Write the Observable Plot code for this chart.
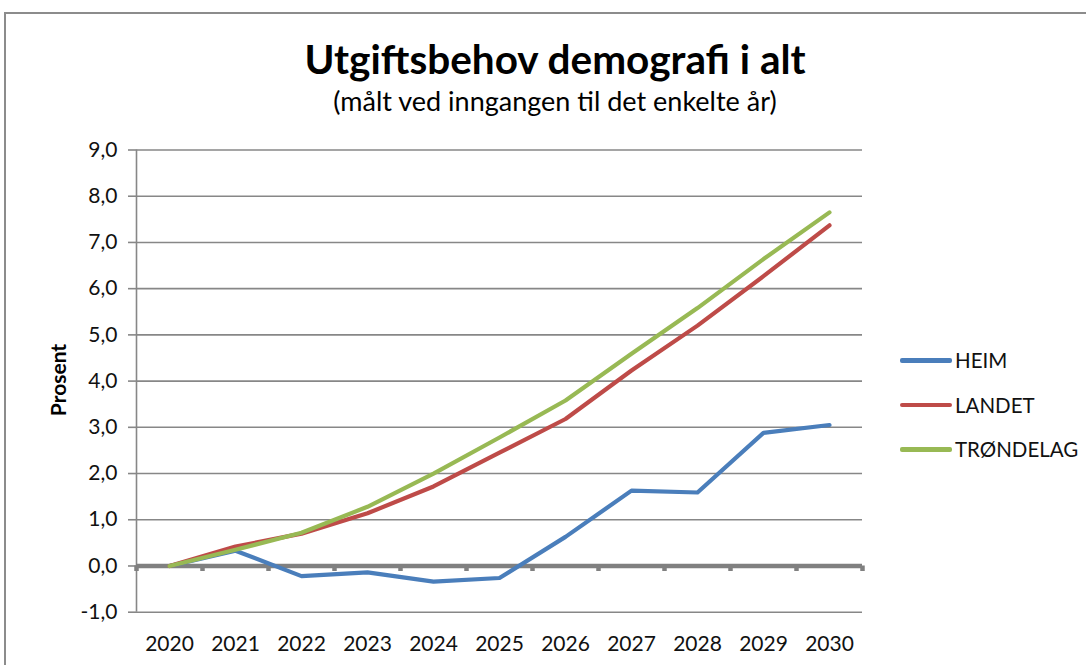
<!DOCTYPE html>
<html><head><meta charset="utf-8">
<script src="https://cdn.jsdelivr.net/npm/d3@7"></script>
<script src="https://cdn.jsdelivr.net/npm/@observablehq/plot@0.6"></script>
<style>
html,body{margin:0;padding:0;background:#fff;overflow:hidden;width:1086px;height:665px;font-family:Lato,sans-serif}
#frame{position:absolute;left:4px;top:12px;width:1200px;height:800px;border:2px solid #8c8c8c;box-sizing:border-box}
#chart{position:absolute;left:0;top:0}
.title{position:absolute;left:0;width:1110px;text-align:center;color:#000;white-space:nowrap}
#t1{top:34px;font-size:40.5px;font-weight:700}
#t2{top:84px;font-size:27px}
#ylab{position:absolute;left:57px;top:380px;transform:translate(-50%,-50%) rotate(-90deg);font-weight:700;font-size:21px;white-space:nowrap}
#legend{position:absolute;left:900px;top:338px}
.item{display:flex;align-items:center;height:44.5px;font-size:20.5px;color:#111}
.sw{width:52px;height:4.5px;border-radius:2px;margin-right:3px}
</style></head>
<body>
<div id="frame"></div>
<div id="chart"></div>
<div class="title" id="t1">Utgiftsbehov demografi i alt</div>
<div class="title" id="t2">(målt ved inngangen til det enkelte år)</div>
<div id="ylab">Prosent</div>
<div id="legend"></div>
<script>
const years = [2020, 2021, 2022, 2023, 2024, 2025, 2026, 2027, 2028, 2029, 2030];
const heim = [0, 0.33, -0.22, -0.14, -0.34, -0.26, 0.63, 1.63, 1.59, 2.88, 3.05];
const landet = [0, 0.42, 0.70, 1.14, 1.72, 2.45, 3.18, 4.23, 5.20, 6.27, 7.37];
const trondelag = [0, 0.35, 0.72, 1.28, 2.00, 2.78, 3.58, 4.59, 5.58, 6.64, 7.65];
const seriesNames = ["HEIM", "LANDET", "TRØNDELAG"];
const seriesColors = ["#4a7ebb", "#be4b48", "#98b954"];
const yTicks = [-1, 0, 1, 2, 3, 4, 5, 6, 7, 8, 9];
const gridValues = [-1, 1, 2, 3, 4, 5, 6, 7, 8, 9];

const seriesValues = [heim, landet, trondelag];
const data = [];
seriesNames.forEach((name, i) => {
  years.forEach((yr, j) => data.push({series: name, year: yr, value: seriesValues[i][j]}));
});
const boundaries = years.map(y => y - 0.5).concat([years[years.length - 1] + 0.5]);
const fmt = d => d.toFixed(1).replace(".", ",");
const gray = "#878787";

const chart = Plot.plot({
  width: 1086,
  height: 665,
  marginLeft: 136,
  marginRight: 224,
  marginTop: 149.5,
  marginBottom: 53.3,
  style: {fontFamily: "Lato, sans-serif", fontSize: "21px", background: "transparent", color: "#000"},
  x: {domain: [2019.5, 2030.5]},
  y: {domain: [-1, 9]},
  color: {domain: seriesNames, range: seriesColors},
  marks: [
    Plot.ruleY(gridValues, {stroke: gray, strokeWidth: 1.6}),
    Plot.ruleX([2019.5], {y1: -1, y2: 9, stroke: gray, strokeWidth: 1.6}),
    Plot.axisY({ticks: yTicks, tickSize: 8, tickPadding: 11, tickFormat: fmt, stroke: gray, strokeWidth: 1.6, fill: "#111", label: null}),
    Plot.axisX({ticks: years, tickSize: 0, tickPadding: 24, tickFormat: d => String(d), fill: "#111", label: null}),
    Plot.ruleX(boundaries, {y1: 0, y2: -0.12, stroke: "#808080", strokeWidth: 4.5}),
    Plot.ruleY([0], {x1: 2019.5, x2: 2030.5, stroke: "#808080", strokeWidth: 4.5}),
    Plot.line(data, {x: "year", y: "value", z: "series", stroke: "series", strokeWidth: 4.2, strokeLinejoin: "round", strokeLinecap: "round"})
  ]
});
document.getElementById("chart").appendChild(chart);

const legend = document.getElementById("legend");
seriesNames.forEach((name, i) => {
  const item = document.createElement("div");
  item.className = "item";
  const sw = document.createElement("div");
  sw.className = "sw";
  sw.style.background = seriesColors[i];
  const lab = document.createElement("span");
  lab.textContent = name;
  item.appendChild(sw);
  item.appendChild(lab);
  legend.appendChild(item);
});
</script>
</body></html>
